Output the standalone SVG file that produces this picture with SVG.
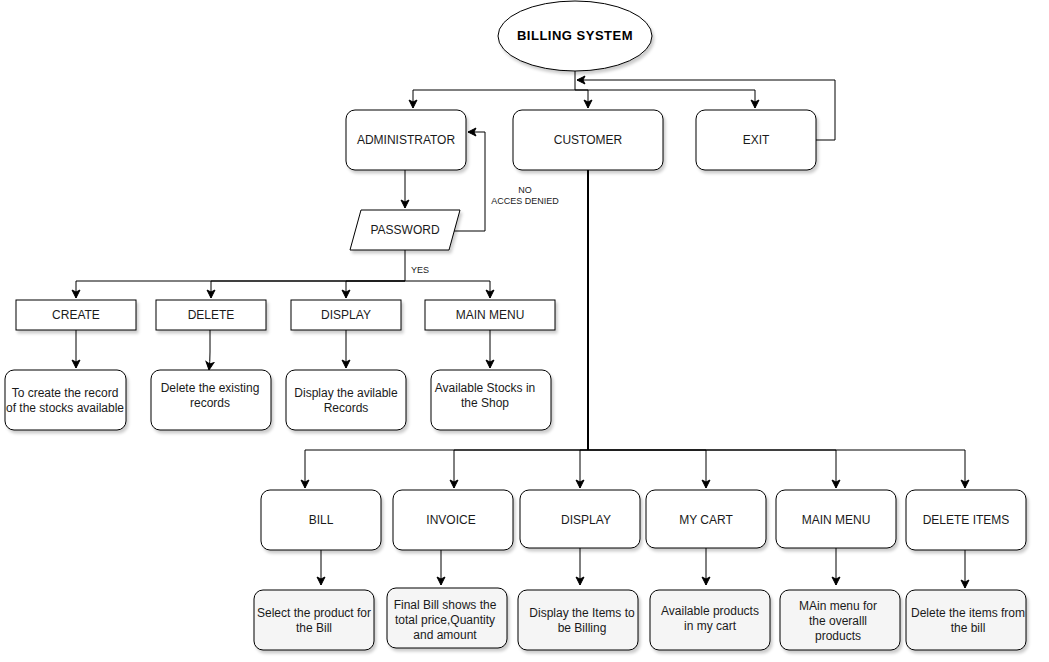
<svg xmlns="http://www.w3.org/2000/svg" width="1049" height="662" viewBox="0 0 1049 662">
<style>
  .box { fill: #ffffff; stroke: #000000; stroke-width: 1; filter: url(#sh); }
  .desc { fill: #ffffff; stroke: #000000; stroke-width: 1; filter: url(#sh); }
  .gdesc { fill: #f5f5f5; stroke: #000000; stroke-width: 1; filter: url(#sh); }
  .lbl { font-family: "Liberation Sans", Arial, sans-serif; font-size: 12px; fill: #1a1a1a; text-anchor: middle; }
  .small { font-family: "Liberation Sans", Arial, sans-serif; font-size: 9px; fill: #1a1a1a; text-anchor: middle; }
  .title { font-family: "Liberation Sans", Arial, sans-serif; font-size: 13px; font-weight: bold; fill: #000; text-anchor: middle; letter-spacing: 0.5px; }
  .ln { fill: none; stroke: #000000; stroke-width: 1; }
  .arr { fill: none; stroke: #000000; stroke-width: 1; marker-end: url(#ah); }
</style>
<defs>
  <filter id="sh" x="-10%" y="-10%" width="130%" height="140%">
    <feDropShadow dx="2" dy="3" stdDeviation="1.5" flood-color="#000" flood-opacity="0.2"/>
  </filter>
  <marker id="ah" markerWidth="10" markerHeight="10" refX="9" refY="5" orient="auto" markerUnits="userSpaceOnUse">
    <path d="M1,1 L9,5 L1,9 L3,5 z" fill="#000" stroke="#000" stroke-width="1"/>
  </marker>
</defs>
<rect width="1049" height="662" fill="#ffffff"/>

<g id="connectors">
  <path class="ln" d="M575,71 V90"/>
  <path class="arr" d="M575,90 H413 V108"/>
  <path class="arr" d="M575,90 H588 V108"/>
  <path class="arr" d="M575,90 H755 V108"/>
  <path class="arr" d="M816,140 H835 V80 H577"/>
  <path class="arr" d="M405,170 V208"/>
  <path class="arr" d="M449,231 H485 V132 H468"/>
  <path class="ln" d="M405,250 V281"/>
  <path class="arr" d="M405,281 H76 V298"/>
  <path class="arr" d="M405,281 H211 V298"/>
  <path class="arr" d="M405,281 H346 V298"/>
  <path class="arr" d="M405,281 H490 V298"/>
  <path class="arr" d="M76,330 V368"/>
  <path class="arr" d="M210,330 V352 Q210,362 209,370"/>
  <path class="arr" d="M346,330 V368"/>
  <path class="arr" d="M490,330 V368"/>
  <path class="ln" d="M588,170 V450" style="stroke-width:2"/>
  <path class="arr" d="M588,450 H305 V488"/>
  <path class="arr" d="M588,450 H454 V488"/>
  <path class="arr" d="M588,450 H580 V488"/>
  <path class="arr" d="M588,450 H706 V488"/>
  <path class="arr" d="M588,450 H836 V488"/>
  <path class="arr" d="M588,450 H965 V488"/>
  <path class="arr" d="M321,550 V585"/>
  <path class="arr" d="M441,550 V585"/>
  <path class="arr" d="M580,548 V585"/>
  <path class="arr" d="M706,548 V585"/>
  <path class="arr" d="M836,548 V585"/>
  <path class="arr" d="M965,550 V588"/>
  <text class="small" x="525" y="193">NO</text>
  <text class="small" x="525" y="204">ACCES DENIED</text>
  <text class="small" x="420" y="273">YES</text>
</g>

<g id="billing-system">
  <ellipse cx="575" cy="36" rx="77" ry="35" fill="#fff" stroke="#000" filter="url(#sh)"/>
  <text class="title" x="575" y="40">BILLING SYSTEM</text>
</g>
<g id="administrator">
  <rect class="box" x="346" y="110" width="120" height="60" rx="9"/>
  <text class="lbl" x="406" y="144">ADMINISTRATOR</text>
</g>
<g id="customer">
  <rect class="box" x="513" y="110" width="150" height="60" rx="9"/>
  <text class="lbl" x="588" y="144">CUSTOMER</text>
</g>
<g id="exit">
  <rect class="box" x="696" y="110" width="120" height="60" rx="9"/>
  <text class="lbl" x="756" y="144">EXIT</text>
</g>
<g id="password">
  <path d="M361,210 H460 L449,250 H350 Z" fill="#fff" stroke="#000" filter="url(#sh)"/>
  <text class="lbl" x="405" y="234">PASSWORD</text>
</g>

<g id="create">
  <rect class="box" x="16" y="300" width="120" height="30"/>
  <text class="lbl" x="76" y="319">CREATE</text>
</g>
<g id="delete">
  <rect class="box" x="156" y="300" width="110" height="30"/>
  <text class="lbl" x="211" y="319">DELETE</text>
</g>
<g id="display-admin">
  <rect class="box" x="291" y="300" width="110" height="30"/>
  <text class="lbl" x="346" y="319">DISPLAY</text>
</g>
<g id="main-menu-admin">
  <rect class="box" x="425" y="300" width="130" height="30"/>
  <text class="lbl" x="490" y="319">MAIN MENU</text>
</g>

<g id="create-desc">
  <rect class="desc" x="5" y="370" width="121" height="60" rx="9"/>
  <text class="lbl" x="65" y="397">To create the record</text>
  <text class="lbl" x="65" y="412">of the stocks available</text>
</g>
<g id="delete-desc">
  <rect class="desc" x="151" y="370" width="120" height="60" rx="9"/>
  <text class="lbl" x="210" y="392">Delete the existing</text>
  <text class="lbl" x="210" y="407">records</text>
</g>
<g id="display-desc">
  <rect class="desc" x="286" y="370" width="120" height="60" rx="9"/>
  <text class="lbl" x="346" y="397">Display the avilable</text>
  <text class="lbl" x="346" y="412">Records</text>
</g>
<g id="main-menu-desc">
  <rect class="desc" x="431" y="370" width="120" height="60" rx="9"/>
  <text class="lbl" x="485" y="392">Available Stocks in</text>
  <text class="lbl" x="485" y="407">the Shop</text>
</g>

<g id="bill">
  <rect class="box" x="261" y="490" width="120" height="60" rx="9"/>
  <text class="lbl" x="321" y="524">BILL</text>
</g>
<g id="invoice">
  <rect class="box" x="393" y="490" width="120" height="60" rx="9"/>
  <text class="lbl" x="451" y="524">INVOICE</text>
</g>
<g id="display-cust">
  <rect class="box" x="520" y="490" width="120" height="58" rx="9"/>
  <text class="lbl" x="586" y="524">DISPLAY</text>
</g>
<g id="my-cart">
  <rect class="box" x="646" y="490" width="120" height="58" rx="9"/>
  <text class="lbl" x="706" y="524">MY CART</text>
</g>
<g id="main-menu-cust">
  <rect class="box" x="776" y="490" width="120" height="58" rx="9"/>
  <text class="lbl" x="836" y="524">MAIN MENU</text>
</g>
<g id="delete-items">
  <rect class="box" x="906" y="490" width="120" height="60" rx="9"/>
  <text class="lbl" x="966" y="524">DELETE ITEMS</text>
</g>

<g id="bill-desc">
  <rect class="gdesc" x="254" y="590" width="120" height="60" rx="9"/>
  <text class="lbl" x="314" y="617">Select the product for</text>
  <text class="lbl" x="314" y="632">the Bill</text>
</g>
<g id="invoice-desc">
  <rect class="gdesc" x="387" y="588" width="120" height="60" rx="9"/>
  <text class="lbl" x="445" y="609">Final Bill shows the</text>
  <text class="lbl" x="445" y="624">total price,Quantity</text>
  <text class="lbl" x="445" y="639">and amount</text>
</g>
<g id="display-cust-desc">
  <rect class="gdesc" x="518" y="590" width="120" height="60" rx="9"/>
  <text class="lbl" x="582" y="617">Display the Items to</text>
  <text class="lbl" x="582" y="632">be Billing</text>
</g>
<g id="my-cart-desc">
  <rect class="gdesc" x="650" y="590" width="120" height="60" rx="9"/>
  <text class="lbl" x="710" y="615">Available products</text>
  <text class="lbl" x="710" y="630">in my cart</text>
</g>
<g id="main-menu-cust-desc">
  <rect class="gdesc" x="780" y="590" width="120" height="60" rx="9"/>
  <text class="lbl" x="838" y="610">MAin menu for</text>
  <text class="lbl" x="838" y="625">the overalll</text>
  <text class="lbl" x="838" y="640">products</text>
</g>
<g id="delete-items-desc">
  <rect class="gdesc" x="906" y="590" width="120" height="60" rx="9"/>
  <text class="lbl" x="968" y="617">Delete the items from</text>
  <text class="lbl" x="968" y="632">the bill</text>
</g>
</svg>
